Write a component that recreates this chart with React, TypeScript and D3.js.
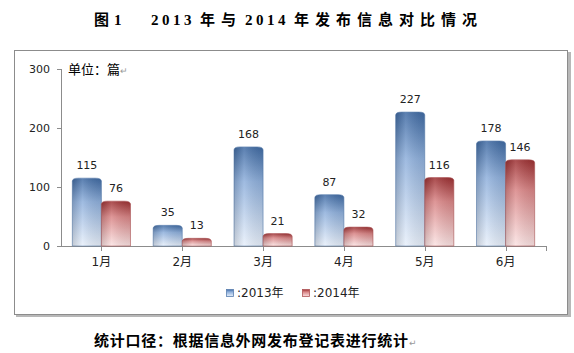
import React, { useEffect, useRef } from "react";
import * as d3 from "d3";

const months = ["1月", "2月", "3月", "4月", "5月", "6月"];
const values2013 = [115, 35, 168, 87, 227, 178];
const values2014 = [76, 13, 21, 32, 116, 146];
const seriesNames = ["2013年", "2014年"];
const yTicks = [0, 100, 200, 300];

const cjk = "'DejaVu Sans', 'Noto Sans CJK SC', sans-serif";

export default function App() {
  const ref = useRef<SVGSVGElement>(null);

  useEffect(() => {
    const svg = d3.select(ref.current);
    svg.selectAll("*").remove();

    const width = 574;
    const height = 353;
    svg.attr("width", width).attr("height", height);

    // 渐变
    const defs = svg.append("defs");
    const grads = [
      { id: "g13", top: "#3f6aa3", mid: "#8fb0dc", bottom: "#e8f0fb" },
      { id: "g14", top: "#9c2f31", mid: "#d98586", bottom: "#fbe3e3" },
    ];
    grads.forEach((g) => {
      const lg = defs.append("linearGradient").attr("id", g.id)
        .attr("x1", 0).attr("y1", 0).attr("x2", 0).attr("y2", 1);
      lg.append("stop").attr("offset", "0%").attr("stop-color", g.top);
      lg.append("stop").attr("offset", "35%").attr("stop-color", g.mid);
      lg.append("stop").attr("offset", "100%").attr("stop-color", g.bottom);
    });
    const shine = defs.append("linearGradient").attr("id", "shine")
      .attr("x1", 0).attr("y1", 0).attr("x2", 1).attr("y2", 0);
    shine.append("stop").attr("offset", "0%").attr("stop-color", "#000").attr("stop-opacity", 0.15);
    shine.append("stop").attr("offset", "35%").attr("stop-color", "#fff").attr("stop-opacity", 0.15);
    shine.append("stop").attr("offset", "100%").attr("stop-color", "#000").attr("stop-opacity", 0.08);

    // 标题（分段排布）
    const title = svg.append("text").attr("y", 25)
      .style("font-family", "'Liberation Serif', 'Noto Sans CJK SC', serif")
      .style("font-weight", "bold").style("font-size", "15px")
      .attr("fill", "#000");
    const titleParts: [string, number, number][] = [
      ["图", 94, 0],
      ["1", 114, 0],
      ["2013", 151, 3.5],
      ["年与", 200, 6],
      ["2014", 245, 3.5],
      ["年发布信息对比情况", 294, 6],
    ];
    titleParts.forEach(([t, px, ls]) => {
      title.append("tspan").attr("x", px).style("letter-spacing", `${ls}px`).text(t);
    });

    // 外框与阴影
    svg.append("rect").attr("x", 16).attr("y", 52).attr("width", 555).attr("height", 265)
      .attr("fill", "#b8b8b8");
    svg.append("rect").attr("x", 14.5).attr("y", 50.5).attr("width", 553).attr("height", 264)
      .attr("fill", "#fff").attr("stroke", "#8c8c8c").attr("stroke-width", 1);

    // 比例尺
    const x = d3.scaleBand().domain(months).range([61, 546]).paddingInner(0).paddingOuter(0);
    const xs = d3.scaleBand().domain(seriesNames).range([0, x.bandwidth()]).paddingInner(0).paddingOuter(0.39);
    const y = d3.scaleLinear().domain([0, 300]).range([246, 69]);

    // y轴
    svg.append("line").attr("x1", 61.5).attr("x2", 61.5).attr("y1", y(300)).attr("y2", y(0))
      .attr("stroke", "#8c8c8c");
    yTicks.forEach((t) => {
      svg.append("line").attr("x1", 57).attr("x2", 61.5)
        .attr("y1", Math.round(y(t)) + 0.5).attr("y2", Math.round(y(t)) + 0.5)
        .attr("stroke", "#8c8c8c");
      svg.append("text").attr("x", 50).attr("y", y(t) + 4)
        .attr("text-anchor", "end")
        .style("font-family", cjk).style("font-size", "11px").attr("fill", "#222")
        .text(t);
    });

    // x轴
    svg.append("line").attr("x1", 61).attr("x2", 546).attr("y1", y(0) + 0.5).attr("y2", y(0) + 0.5)
      .attr("stroke", "#8c8c8c");
    const xTickPos = months.map((m) => (x(m) as number) + x.bandwidth() / 2).concat([546]);
    xTickPos.forEach((p) => {
      svg.append("line").attr("x1", Math.round(p) + 0.5).attr("x2", Math.round(p) + 0.5)
        .attr("y1", y(0)).attr("y2", y(0) + 5).attr("stroke", "#8c8c8c");
    });
    months.forEach((m) => {
      svg.append("text").attr("x", (x(m) as number) + x.bandwidth() / 2).attr("y", 266)
        .attr("text-anchor", "middle")
        .style("font-family", cjk).style("font-size", "12px").attr("fill", "#222")
        .text(m);
    });

    // 柱子
    const barPath = (x0: number, w: number, top: number, base: number) => {
      const rx = 6, ry = 3;
      return `M${x0},${base}V${top + ry}Q${x0},${top} ${x0 + rx},${top}H${x0 + w - rx}Q${x0 + w},${top} ${x0 + w},${top + ry}V${base}Z`;
    };
    const series = [
      { name: seriesNames[0], values: values2013, fill: "url(#g13)", stroke: "#5a7fb0" },
      { name: seriesNames[1], values: values2014, fill: "url(#g14)", stroke: "#b05557" },
    ];
    series.forEach((s) => {
      const g = svg.append("g");
      s.values.forEach((v, i) => {
        const x0 = (x(months[i]) as number) + (xs(s.name) as number);
        const w = xs.bandwidth();
        g.append("path").attr("d", barPath(x0, w, y(v), y(0)))
          .attr("fill", s.fill).attr("stroke", s.stroke).attr("stroke-width", 0.6);
        g.append("path").attr("d", barPath(x0, w, y(v), y(0)))
          .attr("fill", "url(#shine)");
        g.append("text").attr("x", x0 + w / 2).attr("y", y(v) - 9)
          .attr("text-anchor", "middle")
          .style("font-family", cjk).style("font-size", "11px").attr("fill", "#222")
          .text(v);
      });
    });

    // 单位
    svg.append("text").attr("x", 68).attr("y", 74)
      .style("font-family", "'Noto Sans CJK SC', sans-serif").style("font-size", "13px").attr("fill", "#000")
      .text("单位：篇")
      .append("tspan").attr("fill", "#999").style("font-size", "9px").text("↵");

    // 图例
    const legendX = [226, 302];
    series.forEach((s, i) => {
      svg.append("rect").attr("x", legendX[i] + 0.5).attr("y", 289.5).attr("width", 7).attr("height", 7)
        .attr("fill", s.fill).attr("stroke", s.stroke).attr("stroke-width", 0.8);
      svg.append("text").attr("x", legendX[i] + 11).attr("y", 297)
        .style("font-family", cjk).style("font-size", "12px").attr("fill", "#222")
        .text(":" + s.name);
    });

    // 注释
    svg.append("text").attr("x", 94).attr("y", 346)
      .attr("textLength", 314).attr("lengthAdjust", "spacing")
      .style("font-family", "'Noto Sans CJK SC', sans-serif")
      .style("font-weight", "bold").style("font-size", "15px").attr("fill", "#000")
      .text("统计口径：根据信息外网发布登记表进行统计");
    svg.append("text").attr("x", 409).attr("y", 346)
      .style("font-family", "'DejaVu Sans', sans-serif").style("font-size", "9px").attr("fill", "#999")
      .text("↵");
  }, []);

  return (
    <svg ref={ref} style={{ position: "absolute", left: 0, top: 0, display: "block" }} />
  );
}
